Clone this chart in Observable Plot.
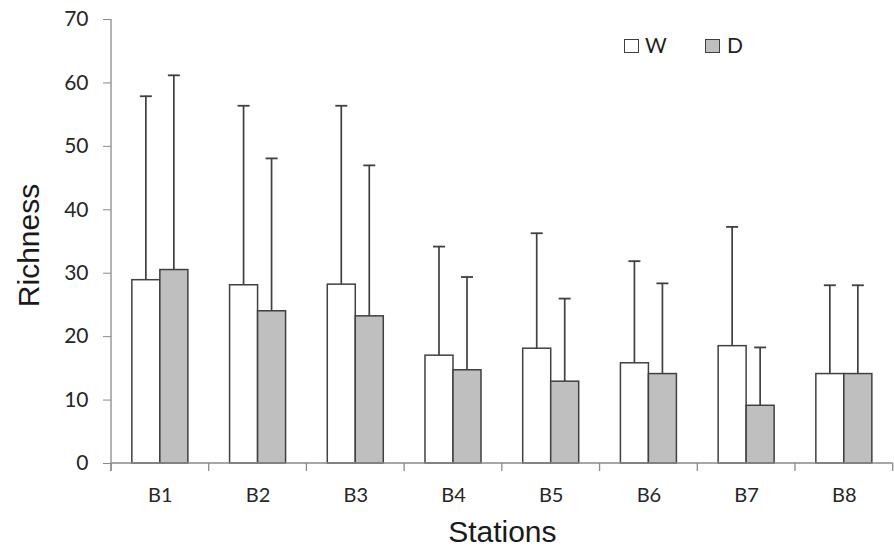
<!DOCTYPE html>
<html><head><meta charset="utf-8">
<script src="https://cdn.jsdelivr.net/npm/d3@7"></script>
<script src="https://cdn.jsdelivr.net/npm/@observablehq/plot@0.6"></script>
<style>
body{margin:0;background:#fff}
#wrap{position:relative;width:894px;height:548px}
.sw{position:absolute;width:13px;height:12px;border:1.5px solid #404040;box-sizing:content-box}
.lt{position:absolute;font-family:Lato,sans-serif;font-size:21px;color:#1f1f1f;line-height:20px}
</style></head><body>
<div id="wrap"></div>
<script>
// ---- data ----
const stations = ["B1", "B2", "B3", "B4", "B5", "B6", "B7", "B8"];
const seriesNames = ["W", "D"];
const wMean = [28.9, 28.1, 28.2, 17.0, 18.1, 15.8, 18.5, 14.1];
const wSD   = [29.0, 28.3, 28.2, 17.2, 18.2, 16.1, 18.8, 14.0];
const dMean = [30.5, 24.0, 23.2, 14.7, 12.9, 14.1, 9.1, 14.1];
const dSD   = [30.7, 24.1, 23.8, 14.7, 13.1, 14.3, 9.2, 14.0];
const yTicks = [0, 10, 20, 30, 40, 50, 60, 70];
const yTitle = "Richness";
const xTitle = "Stations";

// ---- layout / style ----
const W = 894, H = 548, ML = 111, MR = 1.3, MT = 19, MB = 85;
const bw = (W - ML - MR) / stations.length;
const barW = 28, capW = 12, stemW = 1.7;
const ink = "#404040", axisColor = "#8a8a8a", gray = "#bfbfbf";

const rowsW = stations.map((s, i) => ({station: s, mean: wMean[i], upper: wMean[i] + wSD[i]}));
const rowsD = stations.map((s, i) => ({station: s, mean: dMean[i], upper: dMean[i] + dSD[i]}));

function frameLines(index, scales, values, dimensions) {
  const x = scales.x, y = scales.y;
  const band = x.bandwidth ? x.bandwidth() : bw;
  const g = d3.create("svg:g").attr("stroke", axisColor).attr("stroke-width", 1.3).attr("fill", "none");
  const y0 = y(0);
  const left = dimensions.marginLeft, right = dimensions.width - dimensions.marginRight;
  g.append("line").attr("x1", left).attr("x2", left).attr("y1", y(yTicks[yTicks.length - 1])).attr("y2", y0 + 8);
  g.append("line").attr("x1", left).attr("x2", right).attr("y1", y0).attr("y2", y0);
  const edges = stations.map(s => x(s)).concat([x(stations[stations.length - 1]) + band]);
  for (const e of edges) g.append("line").attr("x1", e).attr("x2", e).attr("y1", y0).attr("y2", y0 + 8);
  return g.node();
}

const half = bw / 2;
const stemL = half - barW / 2 - stemW / 2;   // W stem left inset
const stemR = half + barW / 2 - stemW / 2;   // D stem left inset

const chart = Plot.plot({
  width: W, height: H,
  marginLeft: ML, marginRight: MR, marginTop: MT, marginBottom: MB,
  style: {fontFamily: "Lato, sans-serif", background: "white"},
  x: {type: "band", domain: stations, padding: 0, round: false, axis: null},
  y: {domain: [0, 70], axis: null},
  marks: [
    // bars
    Plot.barY(rowsW, {x: "station", y: "mean", fill: "white", stroke: ink, strokeWidth: 1.5,
      insetLeft: half - barW, insetRight: half}),
    Plot.barY(rowsD, {x: "station", y: "mean", fill: gray, stroke: ink, strokeWidth: 1.5,
      insetLeft: half, insetRight: half - barW}),
    // error stems
    Plot.barY(rowsW, {x: "station", y1: "mean", y2: "upper", fill: ink,
      insetLeft: stemL, insetRight: bw - stemL - stemW}),
    Plot.barY(rowsD, {x: "station", y1: "mean", y2: "upper", fill: ink,
      insetLeft: stemR, insetRight: bw - stemR - stemW}),
    // caps
    Plot.tickY(rowsW, {x: "station", y: "upper", stroke: ink, strokeWidth: 1.8,
      insetLeft: half - barW / 2 - capW / 2, insetRight: half + barW / 2 - capW / 2}),
    Plot.tickY(rowsD, {x: "station", y: "upper", stroke: ink, strokeWidth: 1.8,
      insetLeft: half + barW / 2 - capW / 2, insetRight: half - barW / 2 - capW / 2}),
    frameLines,
    Plot.axisY({ticks: yTicks, tickSize: 8, tickPadding: 15, stroke: axisColor, fill: "#262626",
      fontSize: 21, label: null, tickFormat: d => d}),
    Plot.axisX({tickSize: 0, tickPadding: 24, fill: "#262626", fontSize: 20, label: null}),
    Plot.text([yTitle], {frameAnchor: "left", textAnchor: "middle", dx: -82, dy: 4, rotate: -90, fontSize: 30,
      fontFamily: "Liberation Sans, Arial, sans-serif", fill: "#1a1a1a"}),
    Plot.text([xTitle], {frameAnchor: "bottom", dy: 78, fontSize: 30,
      fontFamily: "Liberation Sans, Arial, sans-serif", fill: "#1a1a1a"})
  ]
});

const wrap = document.getElementById("wrap");
wrap.appendChild(chart);
// legend
const legendItems = [
  {name: seriesNames[0], fill: "white", box: 624, text: 645},
  {name: seriesNames[1], fill: gray, box: 705, text: 727}
];
for (const it of legendItems) {
  const b = document.createElement("div");
  b.className = "sw"; b.style.left = it.box + "px"; b.style.top = "39px"; b.style.background = it.fill;
  wrap.appendChild(b);
  const t = document.createElement("div");
  t.className = "lt"; t.style.left = it.text + "px"; t.style.top = "35px"; t.textContent = it.name;
  wrap.appendChild(t);
}
</script>
</body></html>
